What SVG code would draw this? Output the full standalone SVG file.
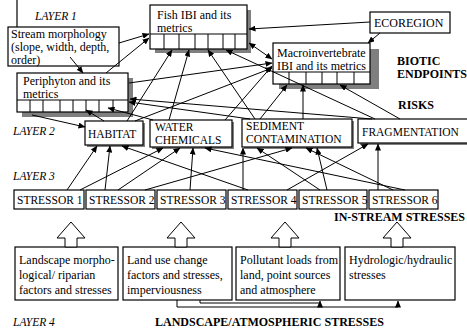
<svg xmlns="http://www.w3.org/2000/svg" width="467" height="334" viewBox="0 0 467 334" font-family="'Liberation Serif', 'DejaVu Serif', serif">
<defs>
<marker id="ah" markerWidth="7" markerHeight="6" refX="6.5" refY="3" orient="auto" markerUnits="userSpaceOnUse">
<path d="M0,0 L7,3 L0,6 z" fill="#000"/>
</marker>
<marker id="as" markerWidth="7" markerHeight="6" refX="0.5" refY="3" orient="auto" markerUnits="userSpaceOnUse">
<path d="M7,0 L0,3 L7,6 z" fill="#000"/>
</marker>
<style>
text{font-family:'Liberation Serif','DejaVu Serif',serif;font-size:12px;fill:#000}
.b{font-weight:bold}
.i{font-style:italic}
.s{font-size:11.5px}
.box{fill:#fff;stroke:#000;stroke-width:1.2}
.sh{fill:#7f7f7f}
.c line,.c polyline{stroke:#000;stroke-width:1;fill:none}
.c line{marker-end:url(#ah)}
.blk{fill:#fff;stroke:#000;stroke-width:1}
</style>
</defs>
<rect width="467" height="334" fill="#fff"/>
<line x1="17" y1="0" x2="17" y2="27" stroke="#000" stroke-width="1.2"/>
<text x="35" y="20" class="i s">LAYER 1</text>
<text x="13" y="135" class="i s">LAYER 2</text>
<text x="13" y="180" class="i s">LAYER 3</text>
<text x="13" y="326" class="i s">LAYER 4</text>
<text x="397" y="65" class="b">BIOTIC</text>
<text x="397" y="78" class="b">ENDPOINTS</text>
<text x="398" y="109" class="b">RISKS</text>
<text x="334" y="221" class="b">IN-STREAM STRESSES</text>
<text x="155" y="326" class="b">LANDSCAPE/ATMOSPHERIC STRESSES</text>

<g id="fish">
<rect x="155" y="10" width="96" height="43" class="sh"/>
<rect x="150" y="5" width="97" height="44" class="box"/>
<line x1="150" y1="34" x2="247" y2="34" stroke="#000"/>
<path d="M164,34V49M179,34V49M195,34V49M208,34V49M223,34V49M235,34V49" stroke="#000"/>
<text x="157" y="19">Fish IBI and its</text>
<text x="157" y="32">metrics</text>
</g>
<g id="ecoregion">
<rect x="370" y="12" width="80" height="21" class="box" stroke-width="1.6"/>
<text x="374" y="27">ECOREGION</text>
</g>
<g id="stream">
<rect x="8" y="27" width="111" height="39" class="box" stroke-width="1.6"/>
<text x="11" y="38">Stream morphology</text>
<text x="11" y="51">(slope, width, depth,</text>
<text x="11" y="64">order)</text>
</g>
<g id="macro">
<rect x="279" y="49" width="100" height="40" class="sh"/>
<rect x="273" y="43" width="97" height="41" class="box"/>
<line x1="273" y1="72" x2="370" y2="72" stroke="#000"/>
<path d="M289,72V84M306,72V84M322,72V84M337,72V84M354,72V84" stroke="#000"/>
<text x="277" y="57">Macroinvertebrate</text>
<text x="277" y="70">IBI and its metrics</text>
</g>
<g id="periphyton">
<rect x="22" y="78" width="111" height="39" class="sh"/>
<rect x="17" y="73" width="111" height="39" class="box"/>
<line x1="17" y1="100" x2="128" y2="100" stroke="#000"/>
<path d="M30,100V112M43,100V112M60,100V112M73,100V112M86,100V112M99,100V112M113,100V112" stroke="#000"/>
<text x="23" y="85">Periphyton and its</text>
<text x="23" y="98">metrics</text>
</g>
<g id="habitat">
<rect x="87" y="123" width="58" height="24" class="sh"/>
<rect x="85" y="121" width="58" height="24" class="box"/>
<text x="88" y="138" class="s">HABITAT</text>
</g>
<g id="water">
<rect x="152" y="122" width="82" height="27" class="sh"/>
<rect x="150" y="120" width="82" height="27" class="box"/>
<text x="155" y="131" class="s">WATER</text>
<text x="155" y="144" class="s">CHEMICALS</text>
</g>
<g id="sediment">
<rect x="244" y="121" width="110" height="28" class="sh"/>
<rect x="242" y="119" width="110" height="28" class="box"/>
<text x="246" y="130" class="s">SEDIMENT</text>
<text x="246" y="143" class="s">CONTAMINATION</text>
</g>
<g id="fragmentation">
<rect x="360" y="121" width="110" height="24" class="sh"/>
<rect x="358" y="119" width="112" height="24" class="box"/>
<text x="362" y="136" class="s">FRAGMENTATION</text>
</g>
<g id="s1"><rect x="14" y="190" width="70" height="19" class="box"/><text x="17" y="204" class="s">STRESSOR 1</text></g>
<g id="s2"><rect x="86" y="190" width="69" height="19" class="box"/><text x="89" y="204" class="s">STRESSOR 2</text></g>
<g id="s3"><rect x="157" y="190" width="69" height="19" class="box"/><text x="160" y="204" class="s">STRESSOR 3</text></g>
<g id="s4"><rect x="228" y="190" width="69" height="19" class="box"/><text x="231" y="204" class="s">STRESSOR 4</text></g>
<g id="s5"><rect x="299" y="190" width="68" height="19" class="box"/><text x="302" y="204" class="s">STRESSOR 5</text></g>
<g id="s6"><rect x="369" y="190" width="69" height="19" class="box"/><text x="372" y="204" class="s">STRESSOR 6</text></g>

<g id="land1"><rect x="15" y="247" width="103" height="53" class="box"/>
<text x="19" y="264">Landscape morpho-</text><text x="19" y="279">logical/ riparian</text><text x="19" y="294">factors and stresses</text></g>
<g id="land2"><rect x="123" y="247" width="109" height="53" class="box"/>
<text x="127" y="264">Land use change</text><text x="127" y="279">factors and stresses,</text><text x="127" y="294">imperviousness</text></g>
<g id="land3"><rect x="236" y="247" width="104" height="53" class="box"/>
<text x="240" y="264">Pollutant loads from</text><text x="240" y="279">land, point sources</text><text x="240" y="294">and atmosphere</text></g>
<g id="land4"><rect x="345" y="247" width="110" height="53" class="box"/>
<text x="349" y="264">Hydrologic/hydraulic</text><text x="349" y="279">stresses</text></g>

<g id="connectors" class="c">
<path class="blk" d="M71,222 L85,238 L77,238 L77,247 L65,247 L65,238 L57,238 Z"/>
<path class="blk" d="M181,222 L195,238 L187,238 L187,247 L175,247 L175,238 L167,238 Z"/>
<path class="blk" d="M285,222 L299,238 L291,238 L291,247 L279,247 L279,238 L271,238 Z"/>
<path class="blk" d="M397,222 L411,238 L403,238 L403,247 L391,247 L391,238 L383,238 Z"/>
<polyline points="200,300 200,303 320,303 320,301" marker-end="url(#ah)"/>
<polyline points="177,300 177,307 398,307 398,301" marker-end="url(#ah)" stroke="#444" stroke-width="1.4"/>

<line x1="119" y1="43" x2="149" y2="34"/>
<line x1="70" y1="57" x2="83" y2="73"/>
<line x1="106" y1="73" x2="149" y2="38"/>
<line x1="370" y1="22" x2="249" y2="29"/>
<line x1="380" y1="33" x2="368" y2="43"/>
<line x1="249" y1="43" x2="272" y2="59" marker-start="url(#as)"/>
<line x1="129" y1="83" x2="272" y2="63"/>
<line x1="32" y1="115" x2="85" y2="127"/>

<line x1="104" y1="121" x2="86" y2="110"/>
<line x1="127" y1="121" x2="172" y2="50"/>
<line x1="135" y1="121" x2="272" y2="68"/>
<line x1="169" y1="120" x2="189" y2="50"/>
<line x1="153" y1="120" x2="108" y2="108"/>
<line x1="225" y1="120" x2="272" y2="66"/>
<line x1="255" y1="119" x2="208" y2="50"/>
<line x1="303" y1="119" x2="303" y2="85"/>
<line x1="250" y1="119" x2="129" y2="102"/>
<line x1="375" y1="119" x2="226" y2="50"/>
<line x1="400" y1="119" x2="340" y2="85"/>
<line x1="372" y1="119" x2="130" y2="99"/>
<line x1="260" y1="119" x2="287" y2="85"/>

<line x1="67" y1="190" x2="97" y2="146"/>
<line x1="80" y1="190" x2="163" y2="148"/>
<line x1="105" y1="190" x2="110" y2="146"/>
<line x1="118" y1="190" x2="180" y2="148"/>
<line x1="145" y1="190" x2="292" y2="148"/>
<line x1="190" y1="190" x2="193" y2="148"/>
<line x1="243" y1="190" x2="243" y2="148"/>
<line x1="248" y1="190" x2="122" y2="146"/>
<line x1="287" y1="190" x2="368" y2="144"/>
<line x1="320" y1="190" x2="257" y2="148"/>
<line x1="327" y1="190" x2="317" y2="148"/>
<line x1="393" y1="190" x2="306" y2="148"/>
<line x1="405" y1="190" x2="205" y2="148"/>
<line x1="378" y1="190" x2="378" y2="144"/>
</g>
</svg>
